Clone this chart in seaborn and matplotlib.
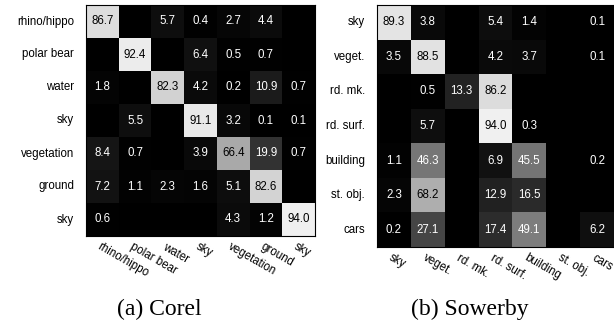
import numpy as np
import matplotlib
matplotlib.use("Agg")
import matplotlib.pyplot as plt
import matplotlib.transforms as mtransforms
import seaborn as sns

sns.set_style("white")
plt.rcParams["font.family"] = ["Liberation Sans", "DejaVu Sans"]
plt.rcParams["text.color"] = "black"
plt.rcParams["xtick.color"] = "black"
plt.rcParams["ytick.color"] = "black"

# Corel confusion matrix (row = true class, column = predicted class), in %
corel_labels = ["rhino/hippo", "polar bear", "water", "sky", "vegetation", "ground", "sky"]
corel_values = [
    [86.7, 0.0, 5.7, 0.4, 2.7, 4.4, 0.0],
    [0.0, 92.4, 0.0, 6.4, 0.5, 0.7, 0.0],
    [1.8, 0.0, 82.3, 4.2, 0.2, 10.9, 0.7],
    [0.0, 5.5, 0.0, 91.1, 3.2, 0.1, 0.1],
    [8.4, 0.7, 0.0, 3.9, 66.4, 19.9, 0.7],
    [7.2, 1.1, 2.3, 1.6, 5.1, 82.6, 0.0],
    [0.6, 0.0, 0.0, 0.0, 4.3, 1.2, 94.0],
]

# Sowerby confusion matrix, in %
sowerby_labels = ["sky", "veget.", "rd. mk.", "rd. surf.", "building", "st. obj.", "cars"]
sowerby_values = [
    [89.3, 3.8, 0.0, 5.4, 1.4, 0.0, 0.1],
    [3.5, 88.5, 0.0, 4.2, 3.7, 0.0, 0.1],
    [0.0, 0.5, 13.3, 86.2, 0.0, 0.0, 0.0],
    [0.0, 5.7, 0.0, 94.0, 0.3, 0.0, 0.0],
    [1.1, 46.3, 0.0, 6.9, 45.5, 0.0, 0.2],
    [2.3, 68.2, 0.0, 12.9, 16.5, 0.0, 0.0],
    [0.2, 27.1, 0.0, 17.4, 49.1, 0.0, 6.2],
]

captions = ["(a) Corel", "(b) Sowerby"]

W, H = 614, 320
fig = plt.figure(figsize=(W / 100, H / 100), dpi=100)
FS = 8.3


def px_axes(x0, y0, x1, y1):
    return fig.add_axes([x0 / W, 1 - y1 / H, (x1 - x0) / W, (y1 - y0) / H])


def confusion(ax, values, labels):
    data = np.array(values)
    annot = np.where(data > 0, np.char.mod("%.1f", data), "")
    sns.heatmap(data, ax=ax, cmap="gray", vmin=0, vmax=100, cbar=False,
                annot=annot, fmt="", annot_kws={"fontsize": FS},
                xticklabels=labels, yticklabels=labels, square=False)
    for txt, v in zip(ax.texts, data.flat):
        txt.set_color("black" if v > 55 else "white")
    ax.tick_params(axis="both", length=0, labelsize=FS, labelcolor="black")
    ax.tick_params(axis="y", pad=8.5)
    ax.tick_params(axis="x", pad=3.5)
    plt.setp(ax.get_yticklabels(), rotation=0, ha="right", va="center")
    shift = mtransforms.ScaledTranslation(-7 / 100, 0, fig.dpi_scale_trans)
    for lab in ax.get_xticklabels():
        lab.set_rotation(-30)
        lab.set_ha("left")
        lab.set_va("top")
        lab.set_transform(lab.get_transform() + shift)
    for sp in ax.spines.values():
        sp.set_visible(True)
        sp.set_color("black")
        sp.set_linewidth(0.8)


ax1 = px_axes(86, 5, 315, 236)
confusion(ax1, corel_values, corel_labels)
ax2 = px_axes(377, 5, 614, 247)
confusion(ax2, sowerby_values, sowerby_labels)

serif = ["Liberation Serif", "DejaVu Serif"]
fig.text(159 / W, 1 - 309 / H, captions[0], ha="center", va="center",
         fontsize=17, family=serif)
fig.text(470 / W, 1 - 309 / H, captions[1], ha="center", va="center",
         fontsize=17, family=serif)

fig.savefig("out.png", dpi=100)
